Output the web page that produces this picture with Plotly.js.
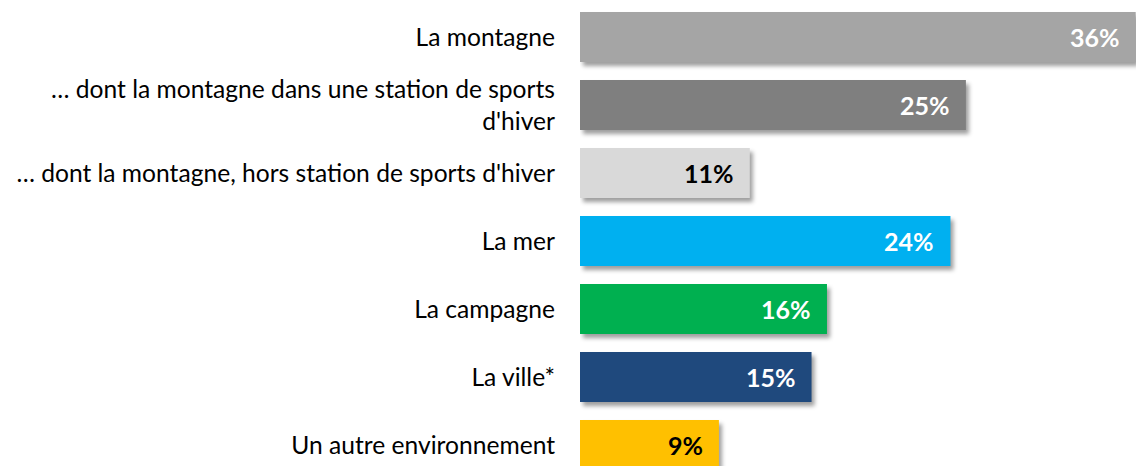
<!DOCTYPE html>
<html>
<head>
<meta charset="utf-8">
<script src="https://cdn.plot.ly/plotly-3.0.1.min.js"></script>
<style>
  html, body { margin: 0; padding: 0; background: #ffffff; }
  #chart { width: 1136px; height: 466px; }
  .barlayer .point path { filter: drop-shadow(3px 4px 2px rgba(0, 0, 0, 0.38)); }
</style>
</head>
<body>
<div id="chart"></div>
<script>
const categories = [
  "La montagne",
  "… dont la montagne dans une station de sports<br>d'hiver",
  "… dont la montagne, hors station de sports d'hiver",
  "La mer",
  "La campagne",
  "La ville*",
  "Un autre environnement"
];
const values = [36, 25, 11, 24, 16, 15, 9];
const barColors = ["#a5a5a5", "#7f7f7f", "#d9d9d9", "#00b0f0", "#00b050", "#1f497d", "#ffc000"];
const textColors = ["#ffffff", "#ffffff", "#000000", "#ffffff", "#ffffff", "#ffffff", "#000000"];

function drawChart() {
  const el = document.getElementById("chart");

  const bars = {
    type: "bar",
    orientation: "h",
    y: categories,
    x: values,
    marker: { color: barColors, line: { width: 0 } },
    hoverinfo: "skip",
    showlegend: false
  };

  const labels = values.map((v, i) => ({
    x: v,
    y: categories[i],
    xref: "x",
    yref: "y",
    text: "<b>" + v + "%</b>",
    showarrow: false,
    xanchor: "right",
    yanchor: "middle",
    xshift: -14,
    font: { family: "Lato, sans-serif", size: 25, color: textColors[i] }
  }));

  const layout = {
    width: 1136,
    height: 466,
    margin: { l: 580, r: 0, t: 0, b: 0 },
    paper_bgcolor: "#ffffff",
    plot_bgcolor: "#ffffff",
    bargap: 0.265,
    font: { family: "Lato, sans-serif", color: "#000000" },
    xaxis: {
      range: [0, 36.02],
      visible: false,
      showgrid: false,
      zeroline: false,
      fixedrange: true
    },
    yaxis: {
      type: "category",
      range: [6.309, -0.544],
      showgrid: false,
      zeroline: false,
      showline: false,
      ticks: "",
      ticklabelstandoff: 24,
      tickfont: { family: "Lato, sans-serif", size: 24.6, color: "#000000" },
      fixedrange: true
    },
    annotations: labels
  };

  Plotly.newPlot(el, [bars], layout, { displayModeBar: false, staticPlot: true });
}

window.addEventListener("load", drawChart);
</script>
</body>
</html>
